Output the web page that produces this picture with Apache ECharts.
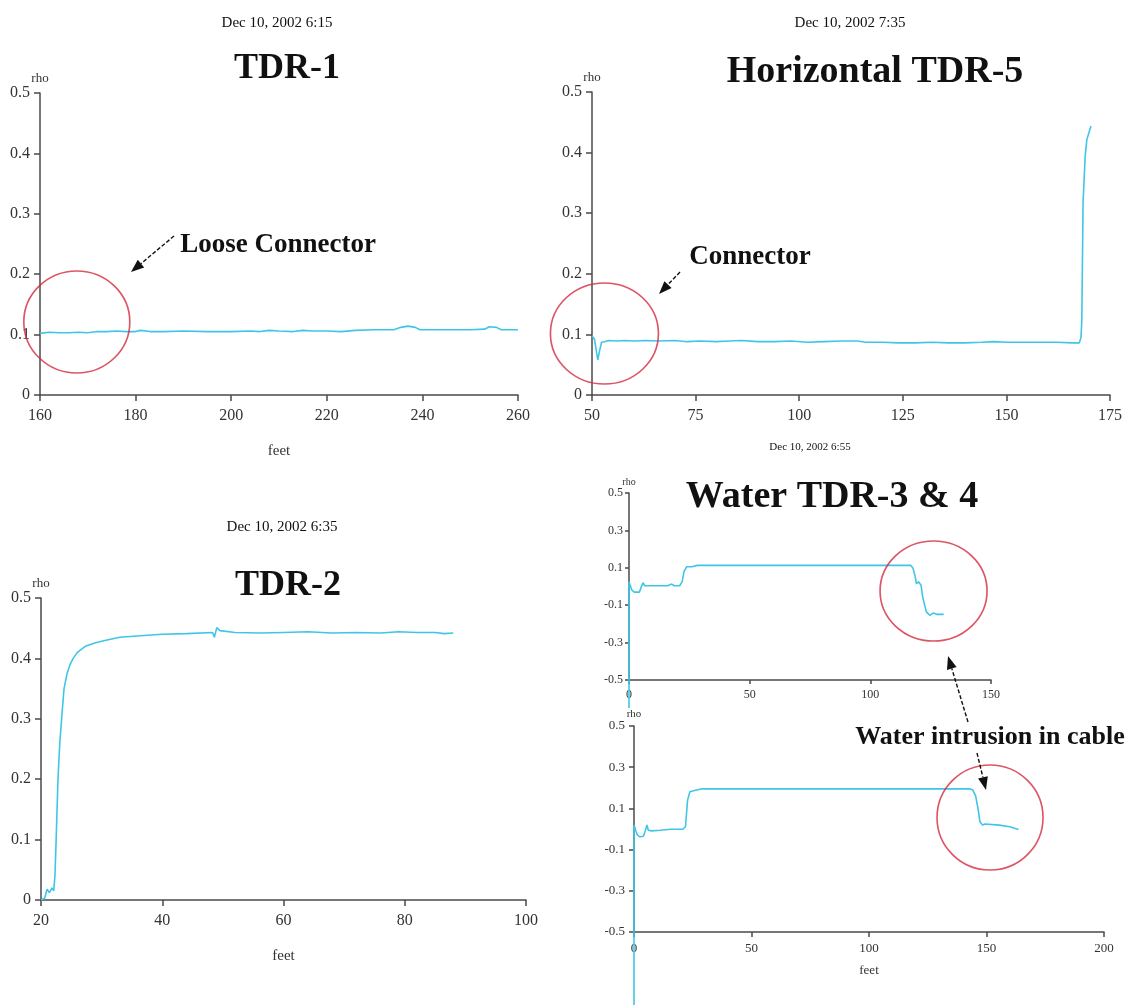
<!DOCTYPE html>
<html>
<head>
<meta charset="utf-8">
<script src="https://cdn.jsdelivr.net/npm/echarts@6/dist/echarts.min.js"></script>
<style>
html,body{margin:0;padding:0;background:#ffffff;}
#chart{width:1128px;height:1005px;}
</style>
</head>
<body>
<div id="chart"></div>
<script>
// ---------------- DATA ----------------
// TDR-1 (Dec 10, 2002 6:15)
const tdr1Feet = [160,162,164,166,168,170,172,174,176,178,180,181,183,186,190,195,200,204,206,208,210,213,215,217,220,223,226,230,234,235.5,237,238.5,239.5,245,250,253,254,255.5,256.5,260];
const tdr1Rho  = [0.102,0.104,0.103,0.103,0.104,0.103,0.105,0.105,0.106,0.105,0.105,0.107,0.105,0.105,0.106,0.105,0.105,0.106,0.105,0.107,0.106,0.105,0.107,0.106,0.106,0.105,0.107,0.108,0.108,0.112,0.114,0.112,0.108,0.108,0.108,0.109,0.113,0.112,0.108,0.108];

// Horizontal TDR-5 (Dec 10, 2002 7:35)
const tdr5Feet = [50,50.6,51.0,51.4,51.8,52.3,53,54,56,58,60,63,66,70,73,76,80,83,86,90,94,98,102,106,110,114,116,120,124,128,132,136,140,144,147,150,154,158,162,166,167.6,168.0,168.2,168.5,169.0,169.4,170.4];
const tdr5Rho  = [0.098,0.092,0.075,0.058,0.072,0.087,0.088,0.090,0.089,0.090,0.089,0.090,0.089,0.090,0.088,0.089,0.088,0.089,0.090,0.088,0.088,0.089,0.087,0.088,0.089,0.089,0.087,0.087,0.086,0.086,0.087,0.086,0.086,0.087,0.088,0.087,0.087,0.087,0.087,0.086,0.086,0.095,0.124,0.317,0.393,0.421,0.444];

// TDR-2 (Dec 10, 2002 6:35)
const tdr2Feet = [20,20.6,21.0,21.4,21.8,22.1,22.3,22.5,22.8,23.1,23.4,23.8,24.3,24.8,25.3,26,27.3,29,30.7,33,35.8,40,44,48.3,48.6,49.0,49.5,52,56,60,64,68,72,76,79,82,85,86.5,88];
const tdr2Rho  = [0.0,0.003,0.018,0.012,0.02,0.015,0.04,0.1,0.2,0.26,0.3,0.35,0.375,0.39,0.4,0.41,0.42,0.426,0.43,0.435,0.437,0.44,0.441,0.443,0.435,0.451,0.446,0.443,0.442,0.443,0.444,0.442,0.443,0.442,0.444,0.443,0.443,0.441,0.442];

// Water TDR-3 (upper, Dec 10, 2002 6:55)
const tdr3Feet = [0,0,1.2,2.2,4.3,5.1,5.8,6.5,8.7,16,17.7,18.8,21,22,22.8,23.9,26.1,28.3,60,90,116.7,117.7,118.6,119.1,120,121,121.7,123.2,124.6,126,127.5,130.4];
const tdr3Rho  = [-0.65,0.025,-0.02,-0.03,-0.03,-0.002,0.02,0.004,0.004,0.004,0.013,0.004,0.004,0.025,0.08,0.106,0.106,0.113,0.113,0.113,0.113,0.097,0.052,0.016,0.025,0.007,-0.056,-0.136,-0.154,-0.142,-0.149,-0.149];

// Water TDR-4 (lower)
const tdr4Feet = [0,0,0.7,1.5,2.5,4,4.9,5.5,6.1,7.4,11.2,15.6,20.8,21.9,22.8,23.8,25.3,29,60,100,142.8,144.2,145.4,146.5,147.2,148.3,149.4,155.4,159.9,163.6];
const tdr4Rho  = [-0.9,0.019,-0.006,-0.03,-0.038,-0.035,-0.006,0.019,-0.006,-0.009,-0.006,-0.001,-0.001,0.011,0.14,0.181,0.186,0.195,0.195,0.195,0.195,0.189,0.16,0.092,0.035,0.019,0.024,0.019,0.011,-0.002];

// Axis ranges [min, max, interval]
const tdr1XRange = [160, 260, 20];
const tdr5XRange = [50, 175, 25];
const tdr2XRange = [20, 100, 20];
const tdr3XRange = [0, 150, 50];
const tdr4XRange = [0, 200, 50];
const rhoRangePos = [0, 0.5, 0.1];
const rhoRangeSym = [-0.5, 0.5, 0.2];

// Annotation circle centres (data units)
const circleTdr1 = [167.7, 0.121];
const circleTdr5 = [53.0, 0.1015];
const circleTdr3 = [126.2, -0.024];
const circleTdr4 = [151.5, 0.056];

// Texts
const subtitles = ['Dec 10, 2002 6:15', 'Dec 10, 2002 7:35', 'Dec 10, 2002 6:35', 'Dec 10, 2002 6:55'];
const titles = ['TDR-1', 'Horizontal TDR-5', 'TDR-2', 'Water TDR-3 & 4'];
const notes = ['Loose Connector', 'Connector', 'Water intrusion in cable'];

// ---------------- STYLE / LAYOUT ----------------
const FONT = '"Liberation Serif", "Times New Roman", serif';
const CYAN = '#3fc6e6';
const RED = '#d42a3e';
const AXIS = '#4a4a4a';
const LABEL = '#333333';

function zip(xs, ys) { return xs.map((x, i) => [x, ys[i]]); }

const plots = [
  { grid:{left:40, top:93, width:478, height:302}, xr:tdr1XRange, yr:rhoRangePos, xs:tdr1Feet, ys:tdr1Rho,
    circle:circleTdr1, csize:[106,102], lbl:16, tick:6, xm:13, ym:10, rhoSize:13, rhoGap:6, feet:true, feetGap:49, feetSize:15 },
  { grid:{left:592, top:92, width:518, height:303}, xr:tdr5XRange, yr:rhoRangePos, xs:tdr5Feet, ys:tdr5Rho,
    circle:circleTdr5, csize:[108,101], lbl:16, tick:6, xm:13, ym:10, rhoSize:13, rhoGap:6, feet:false },
  { grid:{left:41, top:598, width:485, height:302}, xr:tdr2XRange, yr:rhoRangePos, xs:tdr2Feet, ys:tdr2Rho,
    circle:null, lbl:16, tick:6, xm:13, ym:10, rhoSize:13, rhoGap:7, feet:true, feetGap:49, feetSize:15 },
  { grid:{left:629, top:493, width:362, height:187}, xr:tdr3XRange, yr:rhoRangeSym, xs:tdr3Feet, ys:tdr3Rho,
    circle:circleTdr3, csize:[107,100], lbl:12, tick:4, xm:9, ym:6, rhoSize:10, rhoGap:4, feet:false },
  { grid:{left:634, top:726, width:470, height:206}, xr:tdr4XRange, yr:rhoRangeSym, xs:tdr4Feet, ys:tdr4Rho,
    circle:circleTdr4, csize:[106,105], lbl:13, tick:5, xm:10, ym:9, rhoSize:11, rhoGap:3, feet:true, feetGap:32, feetSize:13 }
];

const grids = [], xAxes = [], yAxes = [], series = [];
plots.forEach((p, i) => {
  grids.push(Object.assign({ containLabel:false, outerBoundsMode:'none', show:false }, p.grid));
  const axisLine = { show:true, onZero:false, lineStyle:{ color:AXIS, width:1.5 } };
  const axisTick = { show:true, inside:false, length:p.tick, lineStyle:{ color:AXIS, width:1.5 } };
  xAxes.push({
    gridIndex:i, type:'value', min:p.xr[0], max:p.xr[1], interval:p.xr[2],
    axisLine, axisTick, splitLine:{show:false}, minorTick:{show:false},
    axisLabel:{ fontFamily:FONT, fontSize:p.lbl, color:LABEL, margin:p.xm },
    name: p.feet ? 'feet' : '', nameLocation:'middle', nameGap:p.feetGap || 30,
    nameTextStyle:{ fontFamily:FONT, fontSize:p.feetSize || 13, color:LABEL }
  });
  yAxes.push({
    gridIndex:i, type:'value', min:p.yr[0], max:p.yr[1], interval:p.yr[2],
    axisLine, axisTick, splitLine:{show:false}, minorTick:{show:false},
    axisLabel:{ fontFamily:FONT, fontSize:p.lbl, color:LABEL, margin:p.ym },
    name:'rho', nameLocation:'end', nameGap:p.rhoGap,
    nameTextStyle:{ fontFamily:FONT, fontSize:p.rhoSize, color:LABEL, align:'center', verticalAlign:'bottom' }
  });
  series.push({
    type:'line', xAxisIndex:i, yAxisIndex:i, data:zip(p.xs, p.ys),
    showSymbol:false, symbol:'none', smooth:false, clip:false, z:3, silent:true,
    lineStyle:{ color:CYAN, width:1.6 }
  });
  if (p.circle) {
    series.push({
      type:'scatter', xAxisIndex:i, yAxisIndex:i, data:[p.circle], symbol:'circle', symbolSize:p.csize,
      clip:false, z:4, silent:true,
      itemStyle:{ color:'rgba(0,0,0,0)', borderColor:RED, borderWidth:1.6 }
    });
  }
});

function txt(t, x, y, size, weight) {
  return { type:'text', x:x, y:y, z:10, silent:true,
    style:{ text:t, fontFamily:FONT, fontSize:size, fontWeight:weight || 'normal', fill:'#111111',
            align:'center', verticalAlign:'middle', textAlign:'center', textVerticalAlign:'middle' } };
}
function arrow(x1, y1, x2, y2) {
  const ang = Math.atan2(y2 - y1, x2 - x1), L = 13, W = 5;
  const bx = x2 - L * Math.cos(ang), by = y2 - L * Math.sin(ang);
  const px = -Math.sin(ang) * W, py = Math.cos(ang) * W;
  return [
    { type:'line', z:10, silent:true, shape:{ x1:x1, y1:y1, x2:bx, y2:by }, style:{ stroke:'#111111', lineWidth:1.4, lineDash:[4,2] } },
    { type:'polygon', z:10, silent:true, shape:{ points:[[x2,y2],[bx+px,by+py],[bx-px,by-py]] }, style:{ fill:'#111111' } }
  ];
}

const graphics = [
  txt(subtitles[0], 277, 23, 15),
  txt(subtitles[1], 850, 23, 15),
  txt(subtitles[2], 282, 527, 15),
  txt(subtitles[3], 810, 447, 11),
  txt(titles[0], 287, 69, 36, 'bold'),
  txt(titles[1], 875, 72, 38, 'bold'),
  txt(titles[2], 288, 586, 36, 'bold'),
  txt(titles[3], 832, 497, 38, 'bold'),
  txt(notes[0], 278, 245, 27, 'bold'),
  txt(notes[1], 750, 257, 27, 'bold'),
  txt(notes[2], 990, 737, 26, 'bold')
].concat(
  arrow(174, 236, 131, 272),
  arrow(680, 272, 659, 294),
  arrow(968, 722, 948, 656),
  arrow(977, 753, 986, 790)
);

const chart = echarts.init(document.getElementById('chart'), null, { renderer:'canvas' });
chart.setOption({
  backgroundColor:'#ffffff',
  animation:false,
  tooltip:{ show:false },
  grid:grids, xAxis:xAxes, yAxis:yAxes, series:series,
  graphic:{ elements:graphics }
});
</script>
</body>
</html>
